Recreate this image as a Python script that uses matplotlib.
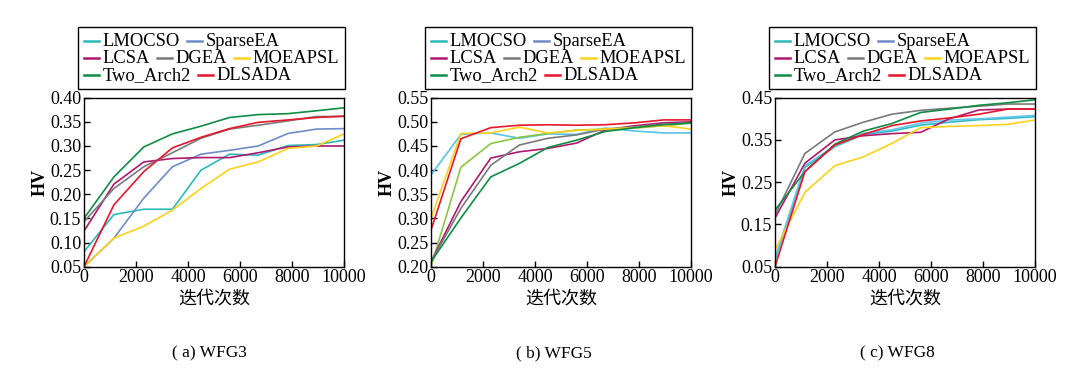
import numpy as np
import matplotlib
matplotlib.use('Agg')
import matplotlib.pyplot as plt
from matplotlib.lines import Line2D
from matplotlib.offsetbox import AnchoredOffsetbox, DrawingArea, TextArea, HPacker, VPacker

plt.rcParams['font.family'] = ['Liberation Serif', 'Noto Sans CJK SC']

iters = [0, 1150, 2300, 3400, 4500, 5600, 6700, 7850, 8950, 10000]
methods = ['LMOCSO', 'SparseEA', 'LCSA', 'DGEA', 'MOEAPSL', 'Two_Arch2', 'DLSADA']
legend_rows = [['LMOCSO', 'SparseEA'], ['LCSA', 'DGEA', 'MOEAPSL'], ['Two_Arch2', 'DLSADA']]
legend_colors = ['#2cb9b9', '#6d8dc7', '#b0176f', '#7a7a7a', '#fdd21b', '#0f8c45', '#e5172c']

# HV values, one row per method (order as in `methods`)
hv_wfg3 = [
    [0.081, 0.158, 0.169, 0.169, 0.250, 0.283, 0.281, 0.301, 0.303, 0.312],
    [0.050, 0.109, 0.192, 0.257, 0.283, 0.291, 0.300, 0.326, 0.335, 0.336],
    [0.124, 0.221, 0.267, 0.274, 0.276, 0.276, 0.286, 0.298, 0.300, 0.300],
    [0.143, 0.212, 0.257, 0.286, 0.316, 0.335, 0.343, 0.352, 0.361, 0.361],
    [0.050, 0.109, 0.134, 0.167, 0.212, 0.252, 0.267, 0.295, 0.300, 0.325],
    [0.150, 0.236, 0.298, 0.325, 0.341, 0.359, 0.365, 0.367, 0.373, 0.379],
    [0.050, 0.178, 0.247, 0.296, 0.318, 0.336, 0.349, 0.354, 0.359, 0.362],
]
hv_wfg5 = [
    [0.390, 0.474, 0.477, 0.466, 0.475, 0.474, 0.487, 0.481, 0.477, 0.477],
    [0.200, 0.406, 0.455, 0.468, 0.476, 0.483, 0.485, 0.487, 0.492, 0.497],
    [0.210, 0.335, 0.425, 0.438, 0.445, 0.456, 0.483, 0.492, 0.498, 0.500],
    [0.210, 0.321, 0.410, 0.452, 0.466, 0.473, 0.485, 0.490, 0.495, 0.498],
    [0.300, 0.476, 0.477, 0.489, 0.477, 0.482, 0.485, 0.488, 0.492, 0.485],
    [0.210, 0.301, 0.386, 0.414, 0.447, 0.462, 0.480, 0.488, 0.494, 0.498],
    [0.276, 0.465, 0.488, 0.493, 0.494, 0.493, 0.494, 0.498, 0.504, 0.504],
]
hv_wfg8 = [
    [0.065, 0.285, 0.334, 0.363, 0.371, 0.385, 0.392, 0.398, 0.401, 0.405],
    [0.070, 0.289, 0.336, 0.366, 0.374, 0.390, 0.397, 0.400, 0.404, 0.408],
    [0.165, 0.295, 0.350, 0.360, 0.365, 0.368, 0.400, 0.421, 0.423, 0.423],
    [0.172, 0.318, 0.369, 0.392, 0.411, 0.420, 0.425, 0.430, 0.435, 0.435],
    [0.090, 0.226, 0.289, 0.310, 0.342, 0.379, 0.382, 0.384, 0.387, 0.397],
    [0.184, 0.275, 0.340, 0.371, 0.389, 0.415, 0.423, 0.432, 0.438, 0.445],
    [0.050, 0.275, 0.338, 0.363, 0.384, 0.395, 0.402, 0.411, 0.423, 0.423],
]

colors_wfg3 = legend_colors
colors_wfg5 = ['#55c3ea', '#8cc641', '#b0176f', '#7a7a7a', '#fdd21b', '#0f8c45', '#e5172c']
colors_wfg8 = ['#2cb9c2', '#62c5ec', '#b0176f', '#7a7a7a', '#fdd21b', '#0f8c45', '#e5172c']

panels = [
    ('( a) WFG3', hv_wfg3, colors_wfg3, [0.05, 0.10, 0.15, 0.20, 0.25, 0.30, 0.35, 0.40]),
    ('( b) WFG5', hv_wfg5, colors_wfg5, [0.20, 0.25, 0.30, 0.35, 0.40, 0.45, 0.50, 0.55]),
    ('( c) WFG8', hv_wfg8, colors_wfg8, [0.05, 0.15, 0.25, 0.35, 0.45]),
]
xticks = [0, 2000, 4000, 6000, 8000, 10000]

W, H = 1081, 387
fig = plt.figure(figsize=(W / 100, H / 100), dpi=100)

ax_left = [84, 431, 775]
ax_w = 260
ax_top, ax_bot = 97.7, 266.7
cap_x = [209, 554, 897]


def make_legend(ax):
    rows = []
    for row in legend_rows:
        items = []
        for name in row:
            da = DrawingArea(11, 8, 0, 0)
            da.add_artist(Line2D([0, 11], [4, 4], color=legend_colors[methods.index(name)], lw=1.8))
            ta = TextArea(name, textprops=dict(fontsize=13.3))
            items.append(HPacker(children=[da, ta], sep=2.5, align='center', pad=0))
        rows.append(HPacker(children=items, sep=5, align='center', pad=0))
    box = VPacker(children=rows, sep=0, align='left', pad=0)
    anch = AnchoredOffsetbox(loc='lower left', child=box, pad=0.4, borderpad=0,
                             bbox_to_anchor=(-0.022, 1.05), bbox_transform=ax.transAxes,
                             frameon=True)
    anch.patch.set_edgecolor('black')
    anch.patch.set_linewidth(1.0)
    ax.add_artist(anch)


for i, (cap, data, cols, yt) in enumerate(panels):
    ax = fig.add_axes([ax_left[i] / W, 1 - ax_bot / H, ax_w / W, (ax_bot - ax_top) / H])
    for name, vals, c in zip(methods, data, cols):
        ax.plot(iters, vals, color=c, lw=1.2, label=name)
    ax.set_xlim(0, 10000)
    ax.set_ylim(yt[0], yt[-1])
    ax.set_xticks(xticks)
    ax.set_yticks(yt)
    ax.set_yticklabels(['%.2f' % v for v in yt])
    ax.tick_params(direction='in', length=4, width=1, labelsize=13, pad=2)
    for s in ax.spines.values():
        s.set_linewidth(1.0)
    ax.set_ylabel('HV', fontsize=13, fontweight='bold', labelpad=1)
    ax.set_xlabel('迭代次数', fontsize=13, labelpad=3)
    make_legend(ax)
    fig.text(cap_x[i] / W, 1 - 353 / H, cap, ha='center', va='center', fontsize=12.5)

fig.savefig('out.png', dpi=100)
